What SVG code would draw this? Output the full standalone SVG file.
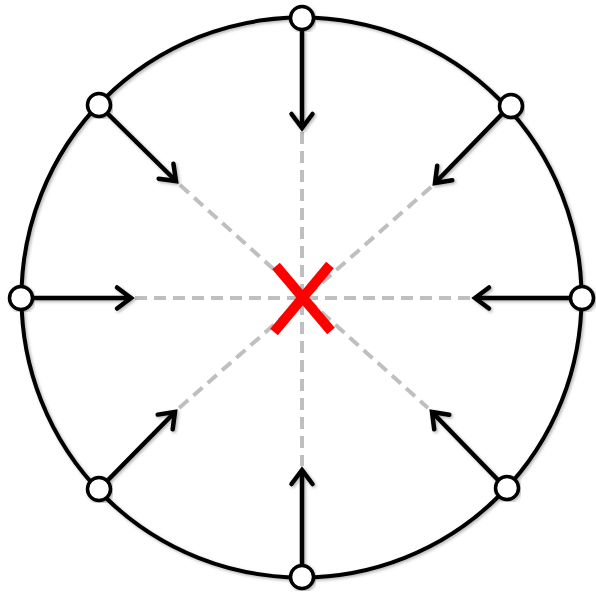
<svg xmlns="http://www.w3.org/2000/svg" width="596" height="597" viewBox="0 0 596 597">
<defs>
<style>
.ring{fill:none;stroke:#000;stroke-width:4}
.guide{stroke:#bfbfbf;stroke-width:4;stroke-dasharray:12 7;fill:none}
.arrow{stroke:#000;stroke-width:4.5;fill:none;marker-end:url(#head)}
.node{fill:#fff;stroke:#000;stroke-width:3.5}
.cross{stroke:#ff0000;stroke-width:10;stroke-linecap:butt}
</style>
<marker id="head" markerUnits="userSpaceOnUse" markerWidth="30" markerHeight="30" refX="0" refY="0" viewBox="-18 -15 22 30" orient="auto" overflow="visible">
<path d="M-14,-10.5 L0,0 L-14,10.5" fill="none" stroke="#000" stroke-width="4.5" stroke-linecap="round" stroke-linejoin="miter"/>
</marker>
<filter id="sh" x="-10%" y="-10%" width="120%" height="120%">
<feDropShadow dx="1.5" dy="1.5" stdDeviation="1.5" flood-color="#000" flood-opacity="0.3"/>
</filter>
</defs>
<g id="ring" filter="url(#sh)">
<circle class="ring" cx="301.5" cy="297.5" r="280"/>
</g>
<g id="guides">
<line class="guide" x1="302" y1="132" x2="302" y2="466"/>
<line class="guide" x1="135" y1="298" x2="471" y2="298"/>
<line class="guide" x1="180" y1="185" x2="428" y2="408"/>
<line class="guide" x1="431" y1="187" x2="178" y2="409"/>
</g>
<g id="connectors" filter="url(#sh)">
<line class="arrow" x1="302" y1="30" x2="302" y2="128"/>
<line class="arrow" x1="302" y1="565" x2="302" y2="470"/>
<line class="arrow" x1="33" y1="298" x2="131" y2="298"/>
<line class="arrow" x1="570" y1="298" x2="475" y2="298"/>
<line class="arrow" x1="108" y1="114" x2="176" y2="181"/>
<line class="arrow" x1="502" y1="114" x2="435" y2="183"/>
<line class="arrow" x1="107" y1="481" x2="175" y2="412"/>
<line class="arrow" x1="498" y1="480" x2="432" y2="412"/>
</g>
<g id="center-mark">
<line class="cross" x1="276" y1="266" x2="331" y2="331"/>
<line class="cross" x1="330" y1="265" x2="274" y2="332"/>
</g>
<g id="node-top" filter="url(#sh)"><circle class="node" cx="302" cy="18" r="11.5"/></g>
<g id="node-bottom" filter="url(#sh)"><circle class="node" cx="302" cy="577" r="11.5"/></g>
<g id="node-left" filter="url(#sh)"><circle class="node" cx="21" cy="298" r="11.5"/></g>
<g id="node-right" filter="url(#sh)"><circle class="node" cx="582" cy="298" r="11.5"/></g>
<g id="node-top-left" filter="url(#sh)"><circle class="node" cx="99" cy="105" r="11.5"/></g>
<g id="node-top-right" filter="url(#sh)"><circle class="node" cx="511" cy="106" r="11.5"/></g>
<g id="node-bottom-left" filter="url(#sh)"><circle class="node" cx="99" cy="489" r="11.5"/></g>
<g id="node-bottom-right" filter="url(#sh)"><circle class="node" cx="507" cy="488" r="11.5"/></g>
</svg>
